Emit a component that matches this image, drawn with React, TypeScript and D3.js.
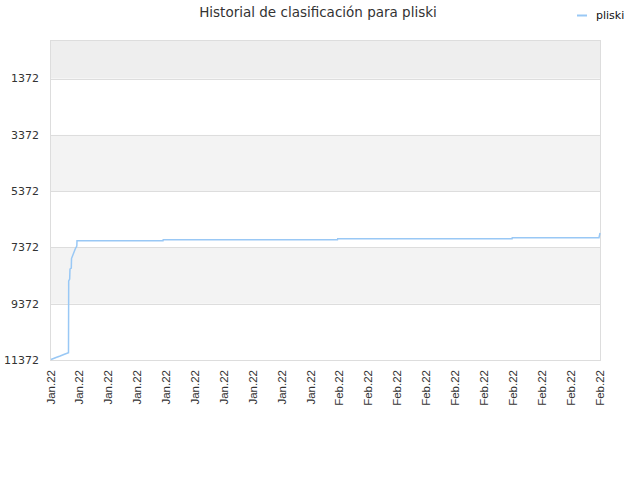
import { useEffect, useRef } from 'react'
import * as d3 from 'd3'

// rank history for pliski (lower rank = better, axis is reversed)
const DATES = [
  '2022-01-07T00:00Z', '2022-01-07T11:00Z', '2022-01-07T20:00Z', '2022-01-08T04:00Z',
  '2022-01-08T14:15Z', '2022-01-08T14:40Z', '2022-01-08T16:50Z', '2022-01-08T17:30Z',
  '2022-01-08T20:20Z', '2022-01-08T20:50Z', '2022-01-09T05:10Z', '2022-01-09T08:25Z',
  '2022-01-09T08:50Z', '2022-01-17T04:50Z', '2022-01-17T05:20Z', '2022-02-02T02:10Z',
  '2022-02-02T02:40Z', '2022-02-17T23:50Z', '2022-02-18T00:15Z', '2022-02-25T21:50Z',
  '2022-02-26T00:00Z',
]
const RANKS = [
  11355, 11284, 11230, 11177,
  11113, 8565, 8494, 8139,
  8103, 7766, 7417, 7321,
  7133, 7133, 7097, 7097,
  7062, 7062, 7026, 7026,
  6859,
]
const Y_TICKS = [1372, 3372, 5372, 7372, 9372, 11372]
const X_START = '2022-01-07T00:00Z'
const X_END = '2022-02-26T00:00Z'
const X_TICK_COUNT = 20
const TITLE = 'Historial de clasificación para pliski'
const SERIES = 'pliski'

const W = 640
const H = 480

export default function App() {
  const svgRef = useRef<SVGSVGElement>(null)

  useEffect(() => {
    if (!svgRef.current) return
    const svg = d3.select(svgRef.current)
    svg.selectAll('*').remove()

    const margin = { top: 40, right: 40, bottom: 120, left: 51 }
    const innerW = W - margin.left - margin.right
    const innerH = H - margin.top - margin.bottom
    const font = 'DejaVu Sans, sans-serif'
    const tickFont = 'Liberation Sans, Arial, sans-serif'

    const x = d3.scaleUtc()
      .domain([new Date(X_START), new Date(X_END)])
      .range([0, innerW])
    const y = d3.scaleLinear()
      .domain([0, 11372])
      .range([0, innerH])

    const g = svg.append('g').attr('transform', `translate(${margin.left},${margin.top})`)

    // background bands
    const bandEdges = [0, ...Y_TICKS]
    bandEdges.slice(0, -1).forEach((v, i) => {
      const next = bandEdges[i + 1]
      let fill = 'none'
      if (i === 0) fill = '#eeeeee'
      else if (i % 2 === 0) fill = '#f3f3f3'
      if (fill === 'none') return
      g.append('rect')
        .attr('x', 0)
        .attr('y', y(v))
        .attr('width', innerW)
        .attr('height', y(next) - y(v))
        .attr('fill', fill)
    })

    // horizontal grid lines
    g.selectAll('.grid')
      .data(Y_TICKS)
      .join('line')
      .attr('x1', 0)
      .attr('x2', innerW)
      .attr('y1', d => Math.round(y(d)) + 0.5)
      .attr('y2', d => Math.round(y(d)) + 0.5)
      .attr('stroke', '#dddddd')

    // plot frame
    g.append('rect')
      .attr('x', -0.5)
      .attr('y', 0.5)
      .attr('width', innerW + 1)
      .attr('height', innerH)
      .attr('fill', 'none')
      .attr('stroke', '#dddddd')

    // y labels
    g.selectAll('.ylab')
      .data(Y_TICKS)
      .join('text')
      .attr('x', -12)
      .attr('y', d => y(d))
      .attr('dy', '0.35em')
      .attr('text-anchor', 'end')
      .attr('font-family', font)
      .attr('font-size', 11)
      .attr('fill', '#333')
      .text(d => d)

    // x labels, evenly spaced over the domain
    const xTicks = d3.range(X_TICK_COUNT).map(i => x.invert((i * innerW) / (X_TICK_COUNT - 1)))
    const fmt = d3.utcFormat('%b.%y')
    g.selectAll('.xlab')
      .data(xTicks)
      .join('text')
      .attr('transform', d => `translate(${x(d) + 3.5},${innerH + 10}) rotate(-90)`)
      .attr('text-anchor', 'end')
      .attr('font-family', tickFont)
      .attr('font-size', 11.5)
      .attr('fill', '#333')
      .text(d => fmt(d))

    // rank line
    const points = DATES.map((d, i) => ({ date: new Date(d), rank: RANKS[i] }))
    const line = d3.line<{ date: Date; rank: number }>()
      .x(d => x(d.date))
      .y(d => y(d.rank))
    g.append('path')
      .datum(points)
      .attr('d', line)
      .attr('fill', 'none')
      .attr('stroke', '#99c8f5')
      .attr('stroke-width', 1.5)

    // title
    svg.append('text')
      .attr('x', 318)
      .attr('y', 17)
      .attr('text-anchor', 'middle')
      .attr('font-family', font)
      .attr('font-size', 13.5)
      .attr('fill', '#333')
      .text(TITLE)

    // legend
    svg.append('line')
      .attr('x1', 577)
      .attr('x2', 587)
      .attr('y1', 15.5)
      .attr('y2', 15.5)
      .attr('stroke', '#99c8f5')
      .attr('stroke-width', 2)
    svg.append('text')
      .attr('x', 596)
      .attr('y', 15)
      .attr('dy', '0.35em')
      .attr('font-family', font)
      .attr('font-size', 11)
      .attr('fill', '#111')
      .text(SERIES)
  }, [])

  return (
    <svg
      ref={svgRef}
      width={W}
      height={H}
      style={{ position: 'absolute', left: 0, top: 0, background: '#fff' }}
    />
  )
}
